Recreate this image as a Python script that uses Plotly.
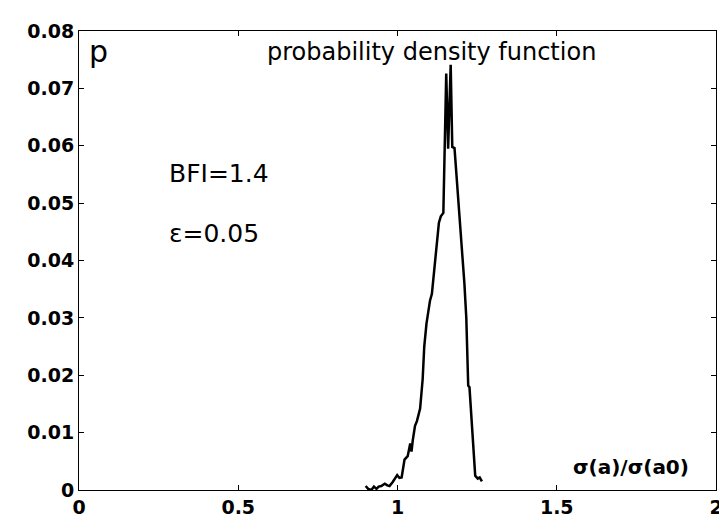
import plotly.graph_objects as go

# sigma(a)/sigma(a0) ratio and probability density
ratio = [0.900, 0.908, 0.918, 0.926, 0.934, 0.941, 0.949, 0.960, 0.968, 0.975,
         0.985, 0.993, 0.999, 1.006, 1.013, 1.022, 1.032, 1.040, 1.044, 1.048,
         1.055, 1.061, 1.071, 1.079, 1.084, 1.091, 1.102, 1.108, 1.115, 1.120,
         1.130, 1.136, 1.144, 1.153, 1.159, 1.167, 1.172, 1.179, 1.189, 1.196,
         1.203, 1.210, 1.216, 1.220, 1.222, 1.226, 1.244, 1.252, 1.258, 1.265]
density = [0.0007, 0.0002, 0.0000, 0.0006, 0.0002, 0.0006, 0.0007, 0.0011, 0.0008, 0.0007,
           0.0014, 0.0022, 0.0026, 0.0021, 0.0022, 0.0053, 0.0059, 0.0081, 0.0067, 0.0087,
           0.0112, 0.0120, 0.0142, 0.0193, 0.0250, 0.0290, 0.0330, 0.0342, 0.0385, 0.0415,
           0.0466, 0.0477, 0.0483, 0.0726, 0.0595, 0.0741, 0.0598, 0.0596, 0.0522, 0.0470,
           0.0420, 0.0360, 0.0300, 0.0230, 0.0182, 0.0179, 0.0025, 0.0020, 0.0022, 0.0015]

x_ticks = [0, 0.5, 1, 1.5, 2]
x_tick_labels = ["0", "0.5", "1", "1.5", "2"]
y_ticks = [0, 0.01, 0.02, 0.03, 0.04, 0.05, 0.06, 0.07, 0.08]
y_tick_labels = ["0", "0.01", "0.02", "0.03", "0.04", "0.05", "0.06", "0.07", "0.08"]

FONT = "DejaVu Sans"

fig = go.Figure()
fig.add_trace(go.Scatter(x=ratio, y=density, mode="lines",
                         line=dict(color="black", width=2.5), showlegend=False))

axis_common = dict(showgrid=False, zeroline=False, showline=True, linecolor="black",
                   linewidth=1, mirror="allticks", ticks="inside", ticklen=5,
                   tickcolor="black", tickfont=dict(family=FONT, size=19, color="black",
                                                    weight="bold"))
fig.update_xaxes(range=[0, 2], tickvals=x_ticks, ticktext=x_tick_labels, **axis_common)
fig.update_yaxes(range=[0, 0.08], tickvals=y_ticks, ticktext=y_tick_labels, **axis_common)

annots = [
    dict(text="probability density function", x=0.553, y=0.954, xanchor="center",
         yanchor="middle", font=dict(family=FONT, size=24, color="black")),
    dict(text="p", x=0.013, y=0.955, xanchor="left", yanchor="middle",
         font=dict(family=FONT, size=30, color="black")),
    dict(text="BFI=1.4", x=0.138, y=0.690, xanchor="left", yanchor="middle",
         font=dict(family=FONT, size=25, color="black")),
    dict(text="ε=0.05", x=0.138, y=0.559, xanchor="left", yanchor="middle",
         font=dict(family=FONT, size=25, color="black")),
    dict(text="<b>σ(a)/σ(a0)</b>", x=0.867, y=0.050, xanchor="center", yanchor="middle",
         font=dict(family=FONT, size=20, color="black")),
]
for a in annots:
    fig.add_annotation(xref="paper", yref="paper", showarrow=False, **a)

fig.update_layout(width=727, height=522, margin=dict(l=71, r=12, t=18, b=27),
                  plot_bgcolor="white", paper_bgcolor="white")

fig.write_html("out.html")
